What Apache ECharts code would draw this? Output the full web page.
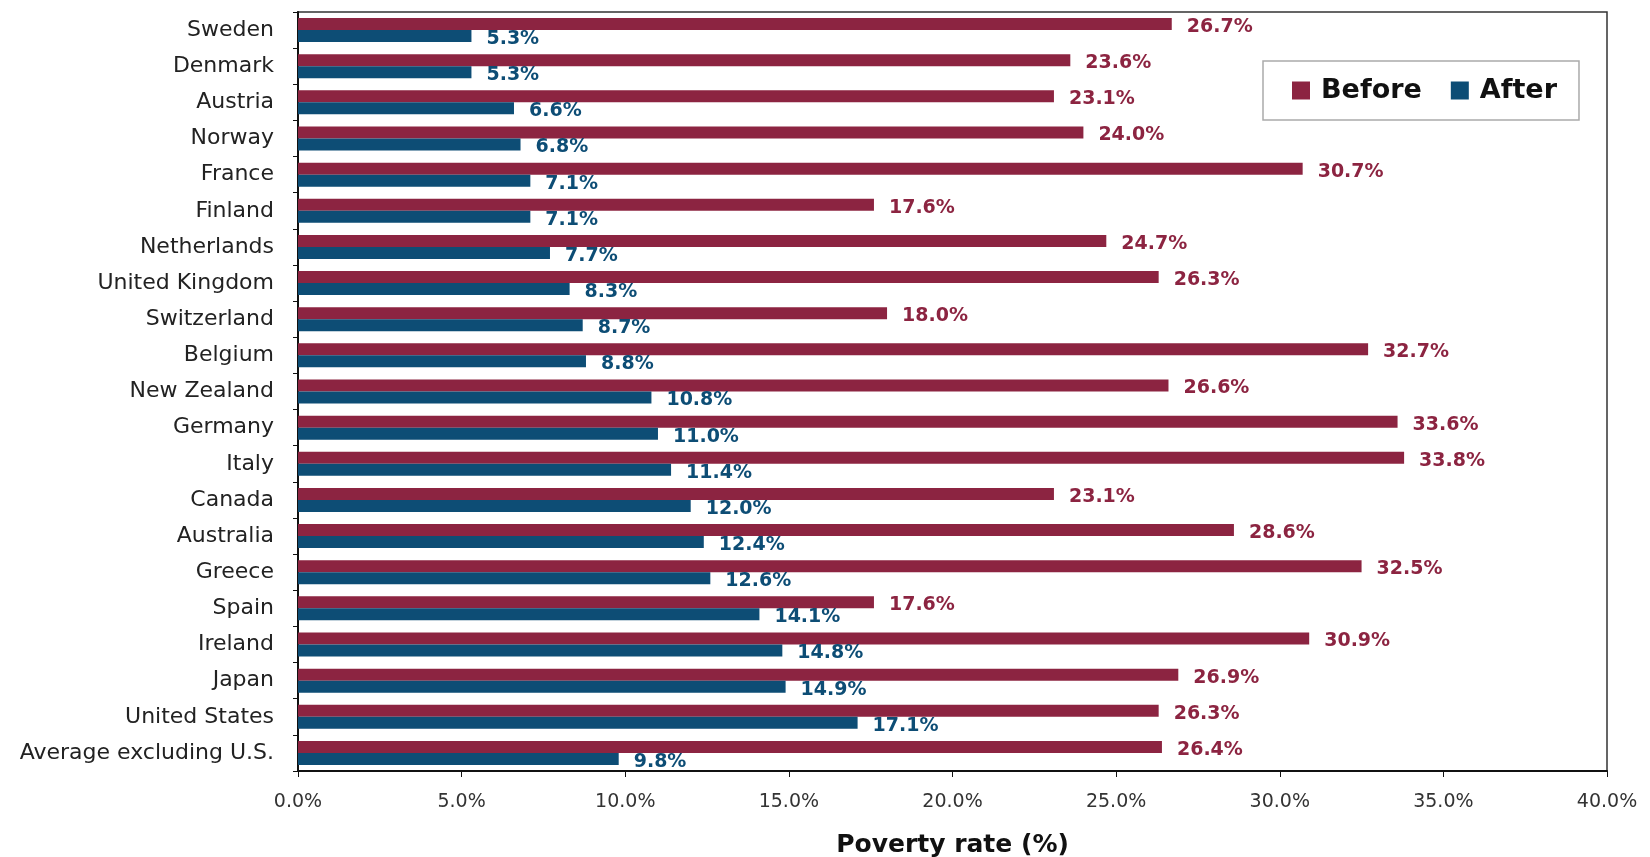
<!DOCTYPE html>
<html>
<head>
<meta charset="utf-8">
<script src="https://cdn.jsdelivr.net/npm/echarts@6/dist/echarts.min.js"></script>
<style>
  html, body { margin: 0; padding: 0; background: #fff; }
  #chart { width: 1650px; height: 857px; }
</style>
</head>
<body>
<div id="chart"></div>
<script>
// poverty rate before / after taxes and transfers
const countries = ['Sweden', 'Denmark', 'Austria', 'Norway', 'France', 'Finland', 'Netherlands',
  'United Kingdom', 'Switzerland', 'Belgium', 'New Zealand', 'Germany', 'Italy', 'Canada',
  'Australia', 'Greece', 'Spain', 'Ireland', 'Japan', 'United States', 'Average excluding U.S.'];
const beforeRates = [26.7, 23.6, 23.1, 24.0, 30.7, 17.6, 24.7, 26.3, 18.0, 32.7, 26.6, 33.6, 33.8,
  23.1, 28.6, 32.5, 17.6, 30.9, 26.9, 26.3, 26.4];
const afterRates = [5.3, 5.3, 6.6, 6.8, 7.1, 7.1, 7.7, 8.3, 8.7, 8.8, 10.8, 11.0, 11.4,
  12.0, 12.4, 12.6, 14.1, 14.8, 14.9, 17.1, 9.8];

const RED = '#8c2441';
const BLUE = '#0d4d75';
const FONT = '"DejaVu Sans", sans-serif';

const chart = echarts.init(document.getElementById('chart'));

function barLabel(color) {
  return {
    show: true,
    position: 'right',
    distance: 15,
    offset: [0, 3],
    color: color,
    fontFamily: FONT,
    fontWeight: 'bold',
    fontSize: 19,
    formatter: p => p.value.toFixed(1) + '%'
  };
}

chart.setOption({
  backgroundColor: '#ffffff',
  animation: false,
  textStyle: { fontFamily: FONT },
  legend: {
    left: 1263,
    top: 61,
    orient: 'horizontal',
    backgroundColor: '#fff',
    borderColor: '#aaa',
    borderWidth: 1.5,
    padding: [16, 22, 16, 29],
    itemWidth: 18,
    itemHeight: 18,
    itemGap: 29,
    icon: 'rect',
    textStyle: {
      fontFamily: FONT, fontWeight: 'bold', fontSize: 27, color: '#111',
      padding: [0, 0, 0, 6]
    },
    data: ['Before', 'After']
  },
  grid: {
    left: 298,
    right: 43,
    top: 12,
    bottom: 86,
    outerBoundsMode: 'none',
    containLabel: false,
    show: true,
    borderColor: '#333',
    borderWidth: 1.5
  },
  xAxis: {
    type: 'value',
    min: 0,
    max: 40,
    interval: 5,
    name: 'Poverty rate (%)',
    nameLocation: 'middle',
    nameGap: 62,
    nameTextStyle: { fontFamily: FONT, fontWeight: 'bold', fontSize: 25, color: '#111' },
    axisLine: { show: true, lineStyle: { color: '#111', width: 2 } },
    axisTick: { show: true, length: 6, lineStyle: { color: '#111' } },
    axisLabel: {
      margin: 22,
      fontSize: 19,
      color: '#333',
      formatter: v => v.toFixed(1) + '%'
    },
    splitLine: { show: false }
  },
  yAxis: {
    type: 'category',
    inverse: true,
    data: countries,
    axisLine: { show: true, lineStyle: { color: '#111', width: 2 } },
    axisTick: { show: true, length: 5, lineStyle: { color: '#111' } },
    axisLabel: { margin: 24, fontSize: 22, color: '#222' }
  },
  series: [
    {
      name: 'Before',
      type: 'bar',
      data: beforeRates,
      barWidth: 12,
      barGap: '0%',
      itemStyle: { color: RED },
      label: barLabel(RED)
    },
    {
      name: 'After',
      type: 'bar',
      data: afterRates,
      barWidth: 12,
      itemStyle: { color: BLUE },
      label: barLabel(BLUE)
    }
  ]
});
</script>
</body>
</html>
